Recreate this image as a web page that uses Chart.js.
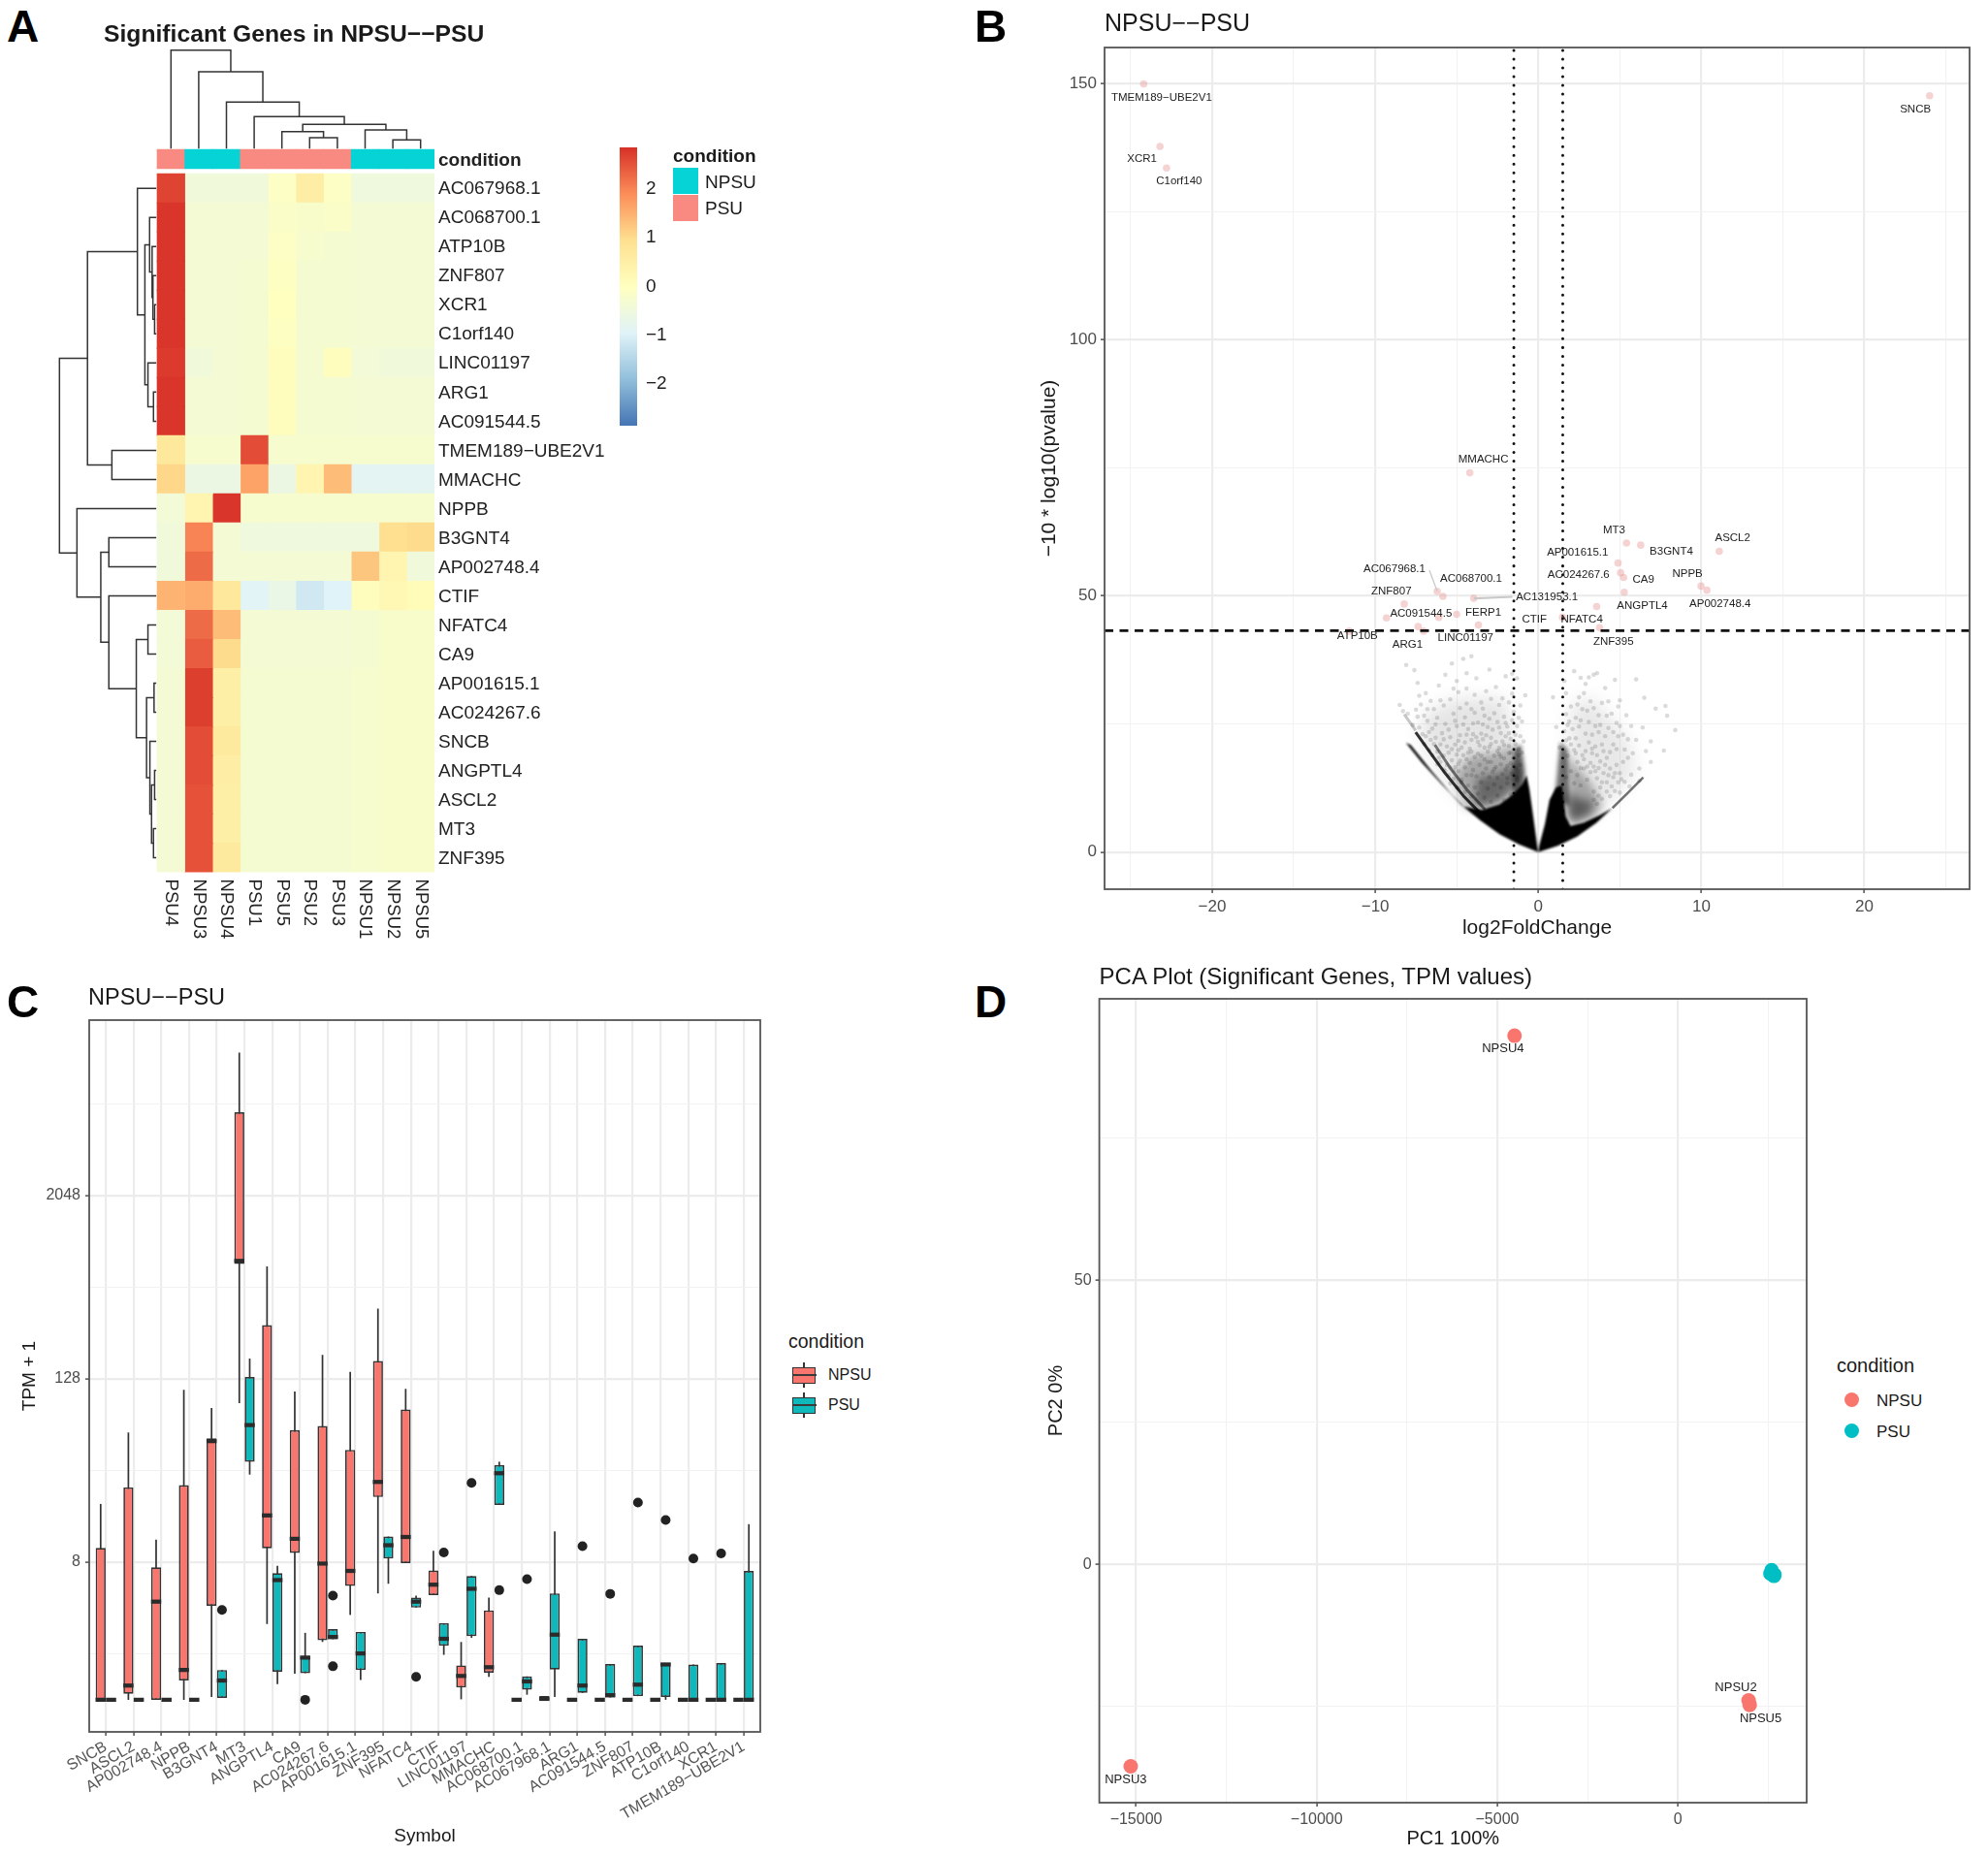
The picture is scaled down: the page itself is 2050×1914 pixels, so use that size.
<!DOCTYPE html>
<html><head><meta charset="utf-8">
<script src="https://cdn.jsdelivr.net/npm/chart.js@4"></script>
<style>
html,body{margin:0;padding:0;background:#fff;width:2050px;height:1914px;overflow:hidden}
#stage{position:relative;width:2050px;height:1914px;font-family:"Liberation Sans",Arial,sans-serif}
canvas{position:absolute;filter:blur(.45px)}
.t{position:absolute;white-space:nowrap;line-height:1;transform:translateY(-50%);color:#1a1a1a}
.r{position:absolute}
</style></head><body><div id="stage"></div>
<script>
// ---------- Panel A data ----------
const genes=["AC067968.1","AC068700.1","ATP10B","ZNF807","XCR1","C1orf140","LINC01197","ARG1","AC091544.5","TMEM189−UBE2V1","MMACHC","NPPB","B3GNT4","AP002748.4","CTIF","NFATC4","CA9","AP001615.1","AC024267.6","SNCB","ANGPTL4","ASCL2","MT3","ZNF395"];
const samples=["PSU4","NPSU3","NPSU4","PSU1","PSU5","PSU2","PSU3","NPSU1","NPSU2","NPSU5"];
const sampleGroup=["PSU","NPSU","NPSU","PSU","PSU","PSU","PSU","NPSU","NPSU","NPSU"];
const heat=[
[2.65,-.45,-.45,-.45,-.1,.55,-.1,-.5,-.5,-.5],
[2.8,-.35,-.35,-.35,-.15,-.2,-.15,-.35,-.35,-.35],
[2.8,-.35,-.35,-.35,-.1,-.25,-.3,-.35,-.35,-.35],
[2.8,-.35,-.35,-.3,-.05,-.3,-.3,-.35,-.35,-.35],
[2.8,-.35,-.35,-.3,0,-.3,-.3,-.35,-.35,-.35],
[2.8,-.35,-.35,-.3,-.05,-.3,-.3,-.35,-.35,-.35],
[2.75,-.45,-.35,-.3,.05,-.3,.05,-.4,-.45,-.45],
[2.8,-.35,-.35,-.3,.05,-.3,-.3,-.35,-.35,-.35],
[2.8,-.35,-.35,-.3,.05,-.3,-.3,-.35,-.35,-.35],
[.7,-.25,-.25,2.55,-.25,-.25,-.25,-.25,-.25,-.25],
[1.05,-.6,-.6,1.65,-.6,.3,1.35,-.85,-.85,-.85],
[-.4,.3,2.8,-.25,-.25,-.25,-.25,-.25,-.25,-.25],
[-.45,2.0,-.35,-.5,-.5,-.5,-.5,-.5,.95,1.0],
[-.45,2.25,-.35,-.35,-.35,-.35,-.35,1.25,.3,-.45],
[1.45,1.55,.7,-.9,-.65,-1.15,-.95,.05,.2,.1],
[-.4,2.25,1.35,-.35,-.35,-.35,-.35,-.3,-.2,-.2],
[-.4,2.4,1.0,-.35,-.35,-.35,-.35,-.3,-.2,-.2],
[-.35,2.7,.5,-.3,-.3,-.3,-.3,-.25,-.2,-.2],
[-.35,2.7,.5,-.3,-.3,-.3,-.3,-.25,-.2,-.2],
[-.35,2.55,.65,-.3,-.3,-.3,-.3,-.25,-.2,-.2],
[-.35,2.55,.55,-.3,-.3,-.3,-.3,-.25,-.2,-.2],
[-.35,2.5,.5,-.3,-.3,-.3,-.3,-.25,-.2,-.2],
[-.35,2.5,.5,-.3,-.3,-.3,-.3,-.25,-.2,-.2],
[-.35,2.5,.65,-.3,-.3,-.3,-.3,-.25,-.2,-.2]];
const colTree=[-4.25,0,[-3.51,1,[-2.47,2,[-1.97,3,[-1.70,[-1.45,4,[-1.24,5,6]],[-1.51,7,[-1.165,8,9]]]]]]];
const rowTree=[-3.52,
 [-2.51,[-.71,0,[-.44,[-.27,1,[-.18,2,[-.15,3,[-.09,4,5]]]],[-.33,6,[-.13,7,8]]]],[-1.63,9,10]],
 [-2.89,11,[-2.03,[-1.74,12,13],[-1.74,14,[-.75,[-.33,15,16],[-.38,[-.11,17,18],[-.26,19,[-.20,[-.09,20,21],[-.13,22,23]]]]]]]]];
const rampColors=["#4575B4","#91BFDB","#E0F3F8","#FFFFBF","#FEE090","#FC8D59","#D73027"];
const rampLimit=2.85;
const barTicks=[-2,-1,0,1,2];

// ---------- Panel B data ----------
const fcTicksMajor=[-20,-10,0,10,20], fcTicksMinor=[-25,-15,-5,5,15,25];
const pTicksMajor=[0,50,100,150], pTicksMinor=[25,75,125];
const fcThreshold=1.5, pThreshold=43.2;
const volGenes=["TMEM189−UBE2V1","SNCB","XCR1","C1orf140","MMACHC","MT3","B3GNT4","ASCL2","AP001615.1","AC024267.6","CA9","NPPB","AP002748.4","ANGPTL4","CTIF","NFATC4","ZNF395","AC067968.1","AC068700.1","AC131953.1","ZNF807","AC091544.5","FERP1","LINC01197","ARG1","ATP10B"];
const volX=[-24.2,24.0,-23.2,-22.8,-4.2,5.41,6.28,11.1,4.89,5.05,5.23,9.98,10.34,5.27,3.58,1.48,3.76,-6.2,-5.85,-3.96,-8.22,-9.31,-5.01,-3.67,-7.37,-11.6];
const volY=[149.9,147.6,137.7,133.5,74.0,60.3,59.9,58.7,56.4,54.5,53.6,51.9,51.1,50.7,47.9,45.8,43.8,50.9,49.9,49.5,48.4,45.7,46.4,44.3,44.0,43.1];
const volLabelX=[-23.1,23.13,-24.3,-22.03,-3.37,4.65,8.16,11.92,2.41,2.47,6.45,9.15,11.15,6.38,-.24,2.67,4.61,-8.82,-4.12,.53,-9.01,-7.19,-3.37,-4.46,-8.02,-11.09];
const volLabelY=[147.2,145.0,135.2,130.9,76.6,62.8,58.7,61.2,58.5,54.1,53.2,54.3,48.4,48.1,45.3,45.4,41.0,55.3,53.3,49.8,50.9,46.5,46.7,41.7,40.5,42.2];
const volExtra=[[-6.1,45.8],[-7.03,43.1]];
const connectorA=[[-6.68,55.0],[-6.2,50.9]], connectorB=[[-3.96,49.5],[-1.59,49.8]];
const blackLeft=[[0,0],[-1.19,1.5],[-2.38,3.5],[-3.56,6.2],[-4.75,9.3],[-5.94,13.3],[-7.13,17.4],[-8.12,21.3],[-7.82,20.9],[-6.53,15.8],[-5.35,11.4],[-4.55,8.9],[-3.47,8.2],[-2.38,9.3],[-1.58,11.2],[-.99,13.2],[-.72,15],[-.55,12.4],[-.3,6.7],[-.08,1.6]];
const blackRight=[[0,0],[1.19,1.2],[2.38,3.0],[3.56,5.7],[4.55,8.6],[3.76,7.2],[2.77,5.7],[1.98,5.1],[1.68,7.0],[1.55,10.5],[1.45,13.0],[1.09,12.6],[.69,10.2],[.4,5.4],[.06,1.3]];
const lightLeft=[[-7.2,22],[-7,27],[-5,30],[-2,30],[-1.5,21],[-3,12],[-5,11]];
const lightRight=[[1.8,20],[2,29],[3.4,30],[5.5,22],[6,16],[4.6,10],[2,7]];
const midLeft=[[-4.55,8.7],[-5.15,14.9],[-4.16,18.7],[-2.57,19.3],[-1.5,21.2],[-1,17],[-1.1,14.3],[-1.58,11.7],[-2.38,9.5],[-3.47,8.0]];
const deepLeft=[[-3.96,8.6],[-3.76,14.3],[-2.38,15.5],[-1.3,17.4],[-1,14.3],[-1.58,11.7],[-2.38,9.5]];
const ridgeLeft=[[-1.6,10],[-1.5,20],[-1.05,21],[-.85,16],[-.85,11]];
const midRight=[[1.98,5.1],[3.56,6.7],[3.96,9.2],[3.17,13.6],[1.98,18.1],[1.7,20],[1.8,11.7]];
const deepRight=[[2.08,5.7],[3.17,7.3],[3.37,9.8],[2.38,10.5],[1.8,12],[1.68,7.3]];
const ridgeRight=[[1.0,10],[1.2,17],[1.35,21.5],[1.8,20],[1.9,9]];
const stripes=[
 {a:.8,w:3,p:[[-7.52,23.4],[-6.83,20.3],[-5.74,15.5],[-4.55,10.8],[-3.47,7.3]]},
 {a:.5,w:3,p:[[-6.34,20.9],[-5.35,16.2],[-4.36,12.1],[-3.27,8.3]]},
 {a:.22,w:3,p:[[-8.22,26.9],[-7.52,23.7]]},
 {a:.55,w:2.5,p:[[4.55,8.6],[5.54,11.7],[6.44,14.6]]}];
const cloudLeft=[[-8.3,27.5],[-8.5,28.7],[-8,27],[-7.6,35.5],[-8.1,36.5],[-7.4,33],[-7.3,30.5],[-7.2,28.8],[-6.9,31],[-6.6,29.5],[-6.1,32.5],[-5.7,34.6],[-5.3,36.8],[-5,33.4],[-4.6,37.7],[-4.1,38.2],[-4.9,31.2],[-4.4,34.9],[-3.8,33.9],[-3.2,31.4],[-2.6,32.2],[-2,34.3],[-1.6,34.8],[-1.3,33.9],[-2.9,29.9],[-3.5,29.2],[-4.4,29],[-5.4,29.8],[-6.4,27.9],[-7,26.6],[-7.4,26.4],
[-7.7,24.8],[-7.3,24.3],[-7.1,23],[-6.8,25.6],[-6.5,24.1],[-6.2,26.2],[-5.9,23.2],[-5.7,25],[-5.4,22.4],[-5.2,27],[-5,24.6],[-4.8,22.8],[-4.5,26.3],[-4.3,24],[-4.1,21.9],[-3.9,27.2],[-3.7,25.3],[-3.5,23.1],[-3.3,26.6],[-3.1,24.4],[-2.9,22.3],[-2.7,27.1],[-2.5,25.4],[-2.3,23.2],[-2.1,26.4],[-1.9,24.5],[-1.7,22.1],[-1.5,27.3],[-1.3,24.6],[-1.1,22.6],[-6.3,22.3],[-6,21],[-5.6,20.6],[-5.1,21],[-4.7,20.4],[-4.2,20.2],[-3.6,20.8],[-3,20.5],[-2.4,20.3],[-1.8,20.7],[-1.2,20.1],
[-6.5,18.9],[-6.2,19.6],[-6,17.6],[-5.8,18.8],[-5.6,17],[-5.5,19.4],[-5.3,17.9],[-5.1,16.6],[-5,19],[-4.9,15.8],[-4.8,17.8],[-4.6,18.9],[-4.5,16.5],[-4.4,15],[-4.3,19.4],[-4.2,17.4],[-4,16],[-3.9,18.5],[-3.8,14.8],[-3.7,19.2],[-3.6,17],[-3.4,15.4],[-3.3,18.1],[-3.2,16.3],[-3.1,19.6],[-3,14.6],[-2.9,17.6],[-2.8,15.7],[-2.7,18.8],[-2.6,16.6],[-2.5,14.5],[-2.4,19.1],[-2.3,17.1],[-2.2,15.2],[-2.1,18.3],[-2,16.1],[-1.9,14.4],[-1.8,19.3],[-1.7,17.3],[-1.6,15.3],[-1.5,18.4],[-1.4,16.4],[-1.3,14.6],[-1.2,18.9],[-1.1,17],[-5.5,15],[-5.2,14.3],[-4.7,14.1],
[-5.4,13.4],[-5,12.6],[-4.7,13.6],[-4.5,11.7],[-4.3,13],[-4.1,10.9],[-3.9,12.6],[-3.7,11.4],[-3.5,13.6],[-3.3,10.6],[-3.1,12.4],[-2.9,9.8],[-2.7,13.2],[-2.5,11],[-2.3,12.6],[-2.1,10.1],[-1.9,13.4],[-1.7,11.2],[-1.5,12.9],[-1.3,14],[-4.9,12.4],[-5.2,15.9],[-5.8,16.1],[-6.2,17.1],[-6.7,19.9],[-7,21.1],[-6.6,21.9],[-7.5,27.8],[-6.7,23.4],[-4,23],[-3.4,22],[-2,22.6],[-1,19.4],[-1,25.5],[-.9,21.6],[-.8,30.6],[-2.2,30],[-3.9,30.7],[-5.8,28.6],[-1.8,29.2],[-1.1,28.6],[-3,35.6],[-4.4,31.9],
[-6.9,22.6],[-6.4,21.1],[-5.8,22],[-5.5,23.9],[-5.1,25.6],[-4.9,21.7],[-4.6,24.9],[-4.4,22.9],[-4,25.1],[-3.8,22.4],[-3.4,24.9],[-3.2,22.8],[-3,26],[-2.8,23.9],[-2.6,21.5],[-2.4,24.3],[-2.2,21.6],[-2,25.2],[-1.8,23.2],[-1.6,25.7],[-1.4,22.9],[-1.2,26.2],[-5.3,20.1],[-4.9,19.9],[-4.5,21.4],[-4.1,19.6],[-3.7,21.5],[-3.3,20.4],[-2.9,21.1],[-2.5,19.7],[-2.1,20.9],[-1.7,19.4],[-1.4,21.1],[-6.1,18.4],[-5.7,15.8],[-5.4,16.5],[-4.9,17.2],[-4.4,18.1],[-4.1,15],[-3.5,18.8],[-3.1,17.6],[-2.7,16.2],[-2.3,18.6],[-1.9,16.8],[-1.5,16.9],[-6.8,27.9],[-6,29.6],[-5.2,31.9],[-4.1,27.9],[-3.4,28],[-2.4,28.7],[-1.6,30.9],[-4.8,28.1],[-6.3,24.9]];
const cloudRight=[[3.4,34.6],[3.1,34.1],[3.6,34.9],[2.9,32.8],[2.6,34],[2.2,35.3],[2.8,31],[3.2,29.4],[3,27.6],[2.5,30.2],[2,28.4],[1.7,31],[2.3,26.2],[1.9,25.5],[4.7,33.6],[4.9,28.4],[4.8,25.2],[5,29.6],[5.4,26.7],[6,33.7],[6.5,30.1],[7.2,28],[7.8,28.5],[7.9,26.6],[8.4,23.8],[7.7,19.8],[6.6,19.7],[6.9,17.6],[6.2,16.3],[5.7,15.1],[5.2,17.6],[4.8,20.1],[5.7,24.6],[4.1,32],[3.9,29.1],[3.7,26.7],[3.5,24.6],[3.3,22.9],[3.1,25.4],[2.9,23.1],[2.7,27.9],[2.5,24.5],[2.3,22.2],[2.1,24],[1.9,22.2],[1.7,26.9],[1.6,23.6],[4.5,27],[4.3,24.2],[4.1,22.6],[3.9,21],[3.7,23.4],[3.5,20.6],[3.3,19.3],[3.1,21.4],[2.9,19.7],[2.7,18.9],[2.5,20.8],[2.3,19.3],[4.9,22.6],[4.6,21],[4.4,19.5],[4.2,18.4],[4,19.7],[3.8,17.7],[3.6,18.9],[3.4,16.7],[3.2,17.4],[5.3,20],[5.5,18.4],[5,15.4],[4.8,17],[4.6,14.6],[4.4,16.3],[4.2,13.6],[4,15.4],[3.8,12.6],[3.6,14.4],[3.4,11.8],[5.8,19.3],[6.2,13.9],[5.6,12.8],[5.3,13.7],[5,11.6],[4.7,11.9],[4.4,10.9],[4.2,11.8],[3.9,10.4],[3.7,11],[3.6,9.4],[3.4,10.2],[3.2,15.6],[3,14.1],[2.8,16.3],[2.6,13],[2.4,15],[2.2,13.4],[2,15.8],[1.8,18.8],[1.7,14.6],[6.9,21.6],[6.4,24.3],[6,21.9],[5.2,22.9],[4.3,29.4],[2.4,28.8],[1.6,33.4],[.9,30.2],[1.1,24.4],[1.3,20.4],
[2.2,19.9],[2.4,17.6],[2.6,16.4],[2.8,18.1],[3,16.7],[3.3,20.2],[3.5,15.8],[3.7,16.4],[3.9,13.6],[4.1,17],[4.3,15],[4.5,12.8],[4.7,15.4],[4.9,13.6],[5.1,14.2],[2,21],[1.8,24.8],[2.6,25.7],[3.4,28.1],[3.8,24.8],[4.2,26.6],[4.6,23.4],[5,24.6],[5.5,22],[1.7,21.8]];

// ---------- Panel C data (log2 of TPM + 1) ----------
const symbols=["SNCB","ASCL2","AP002748.4","NPPB","B3GNT4","MT3","ANGPTL4","CA9","AC024267.6","AP001615.1","ZNF395","NFATC4","CTIF","LINC01197","MMACHC","AC068700.1","AC067968.1","ARG1","AC091544.5","ZNF807","ATP10B","C1orf140","XCR1","TMEM189−UBE2V1"];
const npsuLo =[0,0,0,0,.06,6.47,1.65,.57,1.26,1.85,2.32,2.98,2.28,.01,.5,0,0,0,0,0,0,0,0,0];
const npsuQ1 =[0,.13,0,.42,2.05,9.5,3.3,3.2,1.3,2.48,4.42,2.98,2.28,.27,.59,0,0,0,0,0,0,0,0,0];
const npsuMed=[0,.31,2.14,.65,5.64,9.57,4.02,3.51,2.97,2.81,4.75,3.55,2.51,.52,.71,0,.02,0,0,0,0,0,0,0];
const npsuQ3 =[3.31,4.63,2.89,4.68,5.7,12.81,8.17,5.88,5.97,5.45,7.39,6.33,2.82,.75,1.95,0,.08,0,0,0,0,0,0,0];
const npsuHi =[4.27,5.83,3.49,6.76,6.36,14.11,9.45,6.72,7.52,7.15,8.53,6.78,3.25,1.26,2.23,0,.08,0,0,0,0,0,0,0];
const psuLo  =[0,0,0,0,.04,4.91,.34,.58,1.32,.43,2.53,2.01,.98,1.35,4.25,.11,.06,.15,.05,.08,0,0,0,0];
const psuQ1  =[0,0,0,0,.04,5.19,.61,.58,1.32,.65,3.08,2.01,1.18,1.39,4.25,.22,.66,.15,.05,.08,.06,0,0,0];
const psuMed =[0,0,0,0,.42,5.99,2.61,.92,1.37,1.01,3.37,2.14,1.33,2.42,4.94,.4,1.42,.31,.1,.33,.77,0,0,0];
const psuQ3  =[0,0,0,0,.65,7.04,2.76,.94,1.54,1.48,3.56,2.23,1.67,2.7,5.12,.51,2.32,1.33,.78,1.18,.8,.77,.8,2.81];
const psuHi  =[0,0,0,0,.65,7.44,2.92,1.46,1.54,1.48,3.56,2.27,1.67,2.7,5.19,.51,3.67,1.33,.78,1.18,.8,.77,.8,3.83];
const psuOutlierIndex=[4,7,8,8,11,12,13,14,15,17,18,19,20,21,22];
const psuOutlierValue=[1.96,0,2.27,.73,.5,3.21,4.73,2.39,2.63,3.35,2.31,4.3,3.92,3.08,3.19];
const tpmTicksAll=[1,3,5,7,9,11,13], tpmTicksMajor=[3,7,11];

// ---------- Panel D data ----------
const npsuNames=["NPSU4","NPSU3","NPSU2","NPSU5"];
const npsuPC1=[-4522,-15150,1959,1990], npsuPC2=[93,-35.5,-23.9,-24.7];
const npsuLabelPC1=[-4841,-15287,1608,2293], npsuLabelPC2=[90.7,-37.9,-21.6,-27.1];
const psuPC1=[2596,2564,2612,2660,2675], psuPC2=[-1,-1.6,-1.7,-2,-1.8];
const pc1Major=[-15000,-10000,-5000,0], pc1Minor=[-12500,-7500,-2500,2500];
const pc2Major=[0,50], pc2Minor=[-25,25,75];

// ---------- helpers ----------
const FONT='"Liberation Sans", Arial, sans-serif';
Chart.defaults.font.family=FONT;
const stage=document.getElementById('stage');
function text(s,x,y,size,opts={}){const d=document.createElement('div');d.className='t';d.textContent=s;
 d.style.cssText=`left:${x}px;top:${y}px;font-size:${size}px;font-weight:${opts.bold?700:400};color:${opts.color||'#1a1a1a'}`;stage.appendChild(d);}
function rect(x,y,w,h,bg,extra=''){const d=document.createElement('div');d.className='r';
 d.style.cssText=`left:${x}px;top:${y}px;width:${w}px;height:${h}px;background:${bg};${extra}`;stage.appendChild(d);}
const minus=v=>String(v).replace('-','−');
function noPad(s){s.paddingTop=s.paddingBottom=s.paddingLeft=s.paddingRight=0}
function build(box,area,cfg,yRight){
 const [L,T,R,B]=box,[l,t,r,b]=area;
 const c=document.createElement('canvas');c.width=R-L;c.height=B-T;c.style.left=L+'px';c.style.top=T+'px';c.style.width=(R-L)+'px';c.style.height=(B-T)+'px';stage.appendChild(c);
 const o=cfg.options;
 const xShown=o.scales.x.display!==false;
 o.responsive=false;o.animation=false;o.devicePixelRatio=1;o.events=[];
 o.plugins=Object.assign({legend:{display:false},tooltip:{enabled:false}},o.plugins||{});
 const pad={top:t-T,left:yRight?l-L:0,right:yRight?0:R-r,bottom:xShown?0:B-b};
 let xh=B-b,yw=yRight?R-r:l-L;
 o.layout={padding:pad};
 o.scales.x.afterFit=s=>{if(xShown)s.height=xh;noPad(s)};
 o.scales.y.afterFit=s=>{s.width=yw;noPad(s)};
 return new Chart(c,cfg);
}
const frame={id:'frame',afterDraw(ch){const a=ch.chartArea,x=ch.ctx;x.save();x.strokeStyle='#555';x.lineWidth=1.8;x.strokeRect(a.left,a.top,a.right-a.left,a.bottom-a.top);x.restore();}};
function tickList(list){return s=>{s.ticks=list.map(v=>({value:v}))}}
function ggGrid(major){const M=c=>c.tick&&major.includes(c.tick.value);return{
 offset:false,
 color:c=>M(c)?'#ECECEC':'#F2F2F2',
 lineWidth:c=>M(c)?2.2:1.1,
 tickColor:c=>M(c)?'#444':'rgba(0,0,0,0)',
 tickWidth:1.4,tickLength:4}}
function labelPlugin(names,xs,ys,size){return{id:'lab'+size,afterDatasetsDraw(ch){const x=ch.ctx;x.save();x.font=size+'px '+FONT;x.fillStyle='#222';x.textAlign='center';x.textBaseline='middle';
 names.forEach((n,i)=>x.fillText(n,ch.scales.x.getPixelForValue(xs[i]),ch.scales.y.getPixelForValue(ys[i])));x.restore();}}}
const lineSet=(pts,color,w,extra={})=>Object.assign({type:'scatter',showLine:true,pointRadius:0,borderColor:color,borderWidth:w,fill:false,data:pts.map(p=>({x:p[0],y:p[1]}))},extra);

// ---------- Panel A ----------
function hex(h){return[1,3,5].map(i=>parseInt(h.slice(i,i+2),16))}
function ramp(v){const f=Math.min(.9999,Math.max(0,(v+rampLimit)/(2*rampLimit)))*(rampColors.length-1),i=Math.floor(f),a=hex(rampColors[i]),b=hex(rampColors[i+1]),t=f-i;
 return `rgb(${a.map((c,k)=>Math.round(c+(b[k]-c)*t)).join(',')})`}
const groupColor={NPSU:'#05D3D6',PSU:'#F98A82'};
const heatSets=samples.map((s,c)=>({type:'bar',grouped:false,barThickness:30.5,borderWidth:0,
 data:genes.map((g,r)=>({x:[c,c+1],y:r+.5})),backgroundColor:genes.map((g,r)=>ramp(heat[r][c]))}));
const annotY=-.51, annotLabelY=-.45, rowLabelShift=.03;
const annotSet={type:'bar',grouped:false,barThickness:20,borderWidth:0,data:samples.map((s,c)=>({x:[c,c+1],y:annotY})),backgroundColor:sampleGroup.map(g=>groupColor[g])};
const dendro=[];
function colWalk(n){if(typeof n==='number')return{p:n+.5,h:-.866};const a=colWalk(n[1]),b=colWalk(n[2]);
 dendro.push(lineSet([[a.p,a.h],[a.p,n[0]],[b.p,n[0]],[b.p,b.h]],'#333',1.5));return{p:(a.p+b.p)/2,h:n[0]}}
function rowWalk(n){if(typeof n==='number')return{p:n+.5,h:-.03};const a=rowWalk(n[1]),b=rowWalk(n[2]);
 dendro.push(lineSet([[a.h,a.p],[n[0],a.p],[n[0],b.p],[b.h,b.p]],'#333',1.5));return{p:(a.p+b.p)/2,h:n[0]}}
colWalk(colTree);rowWalk(rowTree);
const sampleLabels={id:'sampleLabels',afterDraw(ch){const x=ch.ctx;x.save();x.font='18.5px '+FONT;x.fillStyle='#222';x.textAlign='left';x.textBaseline='middle';
 samples.forEach((s,c)=>{x.save();x.translate(ch.scales.x.getPixelForValue(c+.5),ch.scales.y.bottom+7);x.rotate(Math.PI/2);x.fillText(s,0,0);x.restore();});x.restore();}};
build([50,30,640,990],[50,40,448,899.6],{type:'bar',data:{datasets:[...dendro,annotSet,...heatSets]},plugins:[sampleLabels],options:{indexAxis:'y',
 scales:{
  x:{type:'linear',min:-3.916,max:10,grid:{display:false},border:{display:false},ticks:{display:false}},
  y:{type:'linear',position:'right',reverse:true,offset:false,min:-4.64,max:24,grid:{display:false,drawTicks:false,offset:false},border:{display:false},
   afterBuildTicks:tickList([annotLabelY,...genes.map((g,r)=>r+.5+rowLabelShift)]),
   ticks:{autoSkip:false,padding:4,color:'#222',font:c=>({size:19,family:FONT,weight:c.tick&&c.tick.value<0?'bold':'normal'}),
    callback:v=>v<0?'condition':genes[Math.floor(v)]}}}}},true);
// colour bar
const gradFill=c=>{const a=c.chart.chartArea;if(!a)return '#fff';const g=c.chart.ctx.createLinearGradient(0,a.bottom,0,a.top);rampColors.forEach((h,i)=>g.addColorStop(i/(rampColors.length-1),h));return g};
build([639,135,699,455],[639,152,657,439],{type:'bar',data:{labels:['condition'],datasets:[{data:[[-rampLimit,rampLimit]],backgroundColor:gradFill,borderWidth:0,barPercentage:1,categoryPercentage:1}]},
 options:{scales:{x:{display:false},y:{position:'right',min:-rampLimit,max:rampLimit,grid:{display:false,drawTicks:false},border:{display:false},
  afterBuildTicks:tickList(barTicks),ticks:{padding:9,color:'#222',font:{size:19},callback:minus}}}}},true);
text('condition',694,160,19,{bold:true});
rect(694,173,26,27,groupColor.NPSU);rect(694,201,26,27,groupColor.PSU);
text('NPSU',727,187,19);text('PSU',727,214,19);

// ---------- Panel B ----------
function polyPath(ch,p,col){const x=ch.ctx,sx=ch.scales.x,sy=ch.scales.y;x.fillStyle=col;x.beginPath();p.forEach((q,i)=>{const X=sx.getPixelForValue(q[0]),Y=sy.getPixelForValue(q[1]);i?x.lineTo(X,Y):x.moveTo(X,Y)});x.closePath();x.fill()}
const density={id:'density',beforeDatasetsDraw(ch){const x=ch.ctx;
 x.save();x.filter='blur(9px)';
 polyPath(ch,lightLeft,'rgba(0,0,0,.10)');polyPath(ch,lightRight,'rgba(0,0,0,.09)');
 x.filter='blur(5px)';
 polyPath(ch,midLeft,'rgba(0,0,0,.28)');polyPath(ch,midRight,'rgba(0,0,0,.30)');
 polyPath(ch,deepLeft,'rgba(0,0,0,.42)');polyPath(ch,deepRight,'rgba(0,0,0,.46)');
 x.filter='blur(2px)';
 polyPath(ch,ridgeLeft,'rgba(0,0,0,.55)');polyPath(ch,ridgeRight,'rgba(0,0,0,.55)');
 x.restore();}};
const density2={id:'density2',afterDatasetsDraw(ch){const x=ch.ctx;
 x.save();x.filter='blur(1px)';polyPath(ch,blackLeft,'#000');polyPath(ch,blackRight,'#000');x.restore();}};
const PINK='rgba(232,140,140,.38)';
const volSets=[
 lineSet([[-fcThreshold,-7.25],[-fcThreshold,157]],'#111',3,{borderDash:[.01,9],borderCapStyle:'round'}),
 lineSet([[fcThreshold,-7.25],[fcThreshold,157]],'#111',3,{borderDash:[.01,9],borderCapStyle:'round'}),
 lineSet([[-26.6,pThreshold],[26.45,pThreshold]],'#111',2.6,{borderDash:[9,6.5]}),
 lineSet(connectorA,'#C9C9C9',1.3),lineSet(connectorB,'#C9C9C9',2.2),
 {type:'scatter',pointRadius:3.8,pointBackgroundColor:PINK,pointBorderWidth:0,data:volX.map((v,i)=>({x:v,y:volY[i]}))},
 {type:'scatter',pointRadius:3.8,pointBackgroundColor:PINK,pointBorderWidth:0,data:volExtra.map(p=>({x:p[0],y:p[1]}))},
 ...stripes.map(s=>lineSet(s.p,`rgba(0,0,0,${s.a})`,s.w)),
 {type:'scatter',pointRadius:2.3,pointBackgroundColor:'rgba(0,0,0,.14)',pointBorderWidth:0,data:cloudLeft.map(p=>({x:p[0],y:p[1]}))},
 {type:'scatter',pointRadius:2.3,pointBackgroundColor:'rgba(0,0,0,.14)',pointBorderWidth:0,data:cloudRight.map(p=>({x:p[0],y:p[1]}))}];
build([1070,30,2040,970],[1139,49,2031,917],{type:'scatter',data:{datasets:volSets},
 plugins:[density,density2,labelPlugin(volGenes,volLabelX,volLabelY,11.5),frame],options:{
 scales:{
  x:{type:'linear',min:-26.6,max:26.45,border:{display:false},grid:ggGrid(fcTicksMajor),afterBuildTicks:tickList([...fcTicksMinor,...fcTicksMajor].sort((a,b)=>a-b)),
   title:{display:true,text:'log2FoldChange',color:'#1a1a1a',font:{size:21},padding:0},
   ticks:{autoSkip:false,maxRotation:0,padding:4,color:'#4D4D4D',font:{size:17},callback:v=>fcTicksMajor.includes(v)?minus(v):''}},
  y:{type:'linear',min:-7.25,max:157,border:{display:false},grid:ggGrid(pTicksMajor),afterBuildTicks:tickList([...pTicksMinor,...pTicksMajor].sort((a,b)=>a-b)),
   title:{display:true,text:'−10 * log10(pvalue)',color:'#1a1a1a',font:{size:21},padding:0},
   ticks:{autoSkip:false,padding:4,color:'#4D4D4D',font:{size:17},callback:v=>pTicksMajor.includes(v)?minus(v):''}}}}});

// ---------- Panel C ----------
const BOXN='#F8766D',BOXP='#0FB8BB',EDGE='#333',dodge=.1875,medHalf=.045;
const medSet=(m,st)=>({type:'bar',stack:st,barPercentage:.98,categoryPercentage:.75,backgroundColor:'#2b2b2b',borderWidth:0,data:m.map((v,i)=>({x:i,y:[v-medHalf,v+medHalf]}))});
const boxSet=(a,b,col,st)=>({type:'bar',stack:st,barPercentage:.96,categoryPercentage:.75,backgroundColor:col,borderColor:EDGE,borderWidth:1.7,borderSkipped:false,data:a.map((v,i)=>({x:i,y:[v,b[i]]}))});
const whiskSet=(a,b,st)=>({type:'bar',stack:st,barPercentage:.16,categoryPercentage:.75,backgroundColor:EDGE,borderWidth:0,data:a.map((v,i)=>({x:i,y:[v,b[i]]}))});
const outliers={type:'scatter',pointRadius:5,pointBackgroundColor:'#222',pointBorderWidth:0,data:psuOutlierIndex.map((g,i)=>({x:g+dodge,y:psuOutlierValue[i]}))};
build([19,1040,795,1905],[92,1052,784,1786],{type:'bar',data:{datasets:[outliers,medSet(npsuMed,'n'),medSet(psuMed,'p'),boxSet(npsuQ1,npsuQ3,BOXN,'n'),boxSet(psuQ1,psuQ3,BOXP,'p'),whiskSet(npsuLo,npsuHi,'n'),whiskSet(psuLo,psuHi,'p')]},
 plugins:[frame],options:{
 scales:{
  x:{type:'linear',min:-.6,max:23.6,offset:false,border:{display:false},grid:ggGrid(symbols.map((s,i)=>i)),afterBuildTicks:tickList(symbols.map((s,i)=>i)),
   title:{display:true,text:'Symbol',color:'#1a1a1a',font:{size:19},padding:0},
   ticks:{autoSkip:false,minRotation:30,maxRotation:30,padding:2,color:'#555',font:{size:16},callback:v=>symbols[v]}},
  y:{type:'linear',stacked:false,min:-.7,max:14.82,border:{display:false},grid:ggGrid(tpmTicksMajor),afterBuildTicks:tickList(tpmTicksAll),
   title:{display:true,text:'TPM + 1',color:'#1a1a1a',font:{size:19},padding:0},
   ticks:{autoSkip:false,padding:5,color:'#4D4D4D',font:{size:16},callback:v=>tpmTicksMajor.includes(v)?String(2**v):''}}}}});
text('condition',813,1384,19.5);
[[1418,BOXN,'NPSU'],[1449,BOXP,'PSU']].forEach(k=>{
 rect(828,k[0]-13,1.6,26,EDGE);rect(817,k[0]-8,22.4,14.6,k[1],`border:1.4px solid ${EDGE}`);rect(817,k[0]-1,25,2,'#3a3a3a');text(k[2],854,k[0],16);});

// ---------- Panel D ----------
build([1077,1015,1875,1908],[1133.6,1030,1863,1859],{type:'scatter',data:{datasets:[
 {label:'NPSU',pointRadius:7.5,pointBackgroundColor:'#F8766D',pointBorderWidth:0,data:npsuPC1.map((v,i)=>({x:v,y:npsuPC2[i]}))},
 {label:'PSU',pointRadius:7.5,pointBackgroundColor:'#00BFC4',pointBorderWidth:0,data:psuPC1.map((v,i)=>({x:v,y:psuPC2[i]}))}]},
 plugins:[labelPlugin(npsuNames,npsuLabelPC1,npsuLabelPC2,13),frame],options:{
 scales:{
  x:{type:'linear',min:-16019,max:3567,border:{display:false},grid:ggGrid(pc1Major),afterBuildTicks:tickList([...pc1Major,...pc1Minor].sort((a,b)=>a-b)),
   title:{display:true,text:'PC1 100%',color:'#1a1a1a',font:{size:20},padding:0},
   ticks:{autoSkip:false,maxRotation:0,padding:4,color:'#4D4D4D',font:{size:16},callback:v=>pc1Major.includes(v)?minus(v):''}},
  y:{type:'linear',min:-41.9,max:99.5,border:{display:false},grid:ggGrid(pc2Major),afterBuildTicks:tickList([...pc2Minor,...pc2Major].sort((a,b)=>a-b)),
   title:{display:true,text:'PC2 0%',color:'#1a1a1a',font:{size:20},padding:0},
   ticks:{autoSkip:false,padding:4,color:'#4D4D4D',font:{size:16},callback:v=>pc2Major.includes(v)?minus(v):''}}}}});
text('condition',1894,1408,20);
[[1443.7,'#F8766D','NPSU'],[1475.7,'#00BFC4','PSU']].forEach(k=>{rect(1901.5,k[0]-7.5,15,15,k[1],'border-radius:50%');text(k[2],1935,k[0],17);});

// ---------- titles and panel letters ----------
text('Significant Genes in NPSU−−PSU',107,35,24.7,{bold:true});
text('NPSU−−PSU',1139,23,25);
text('NPSU−−PSU',91,1029,23.5);
text('PCA Plot (Significant Genes, TPM values)',1133.6,1007,24);
text('A',7,26.5,46,{bold:true,color:'#000'});
text('B',1005,26.5,46,{bold:true,color:'#000'});
text('C',7,1033,46,{bold:true,color:'#000'});
text('D',1005,1033,46,{bold:true,color:'#000'});
</script></body></html>
